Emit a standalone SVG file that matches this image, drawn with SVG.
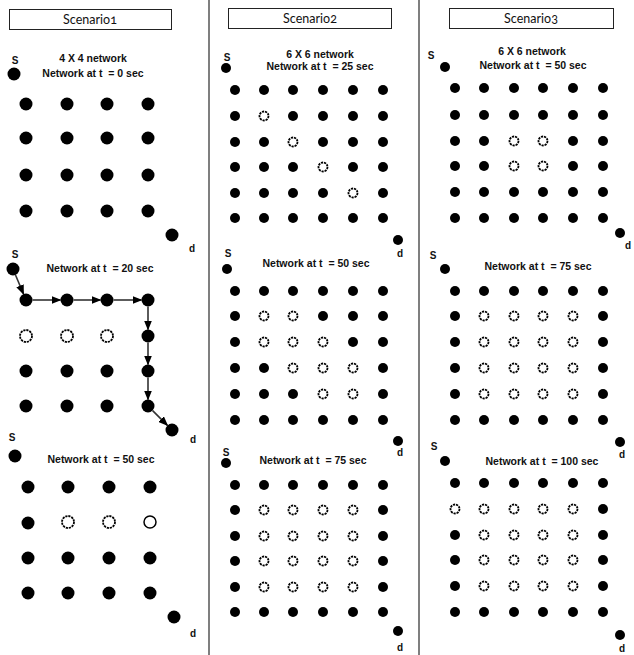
<svg xmlns="http://www.w3.org/2000/svg" width="634" height="655" viewBox="0 0 634 655">
<style>
.hdr{fill:#fff;stroke:#222;stroke-width:1}
.ht{font-family:Lato,"Liberation Sans",sans-serif;font-size:12.5px;fill:#111;text-anchor:middle;font-variant-numeric:oldstyle-nums}
.t{font-family:"Liberation Sans",Arial,sans-serif;font-weight:bold;font-size:10.5px;fill:#111;text-anchor:middle;white-space:pre}
.l{font-family:"Liberation Sans",Arial,sans-serif;font-weight:bold;font-size:10px;fill:#111;text-anchor:middle}
.f{fill:#000}
.h{fill:#fff;stroke:#000;stroke-width:1.8;stroke-dasharray:2.2 0.9}
.hs{fill:#fff;stroke:#000;stroke-width:1.5}
.sep{stroke:#555;stroke-width:1.5}
.c{stroke:#333;stroke-width:1.6;fill:none;marker-end:url(#ah)}
</style>
<defs>
<marker id="ah" markerUnits="userSpaceOnUse" markerWidth="10" markerHeight="8" refX="9" refY="4" orient="auto"><path d="M0,0 L10,4 L0,8 Z" fill="#000"/></marker>
</defs>
<rect width="634" height="655" fill="#fff"/>
<line class="sep" x1="209" y1="0" x2="209" y2="655"/>
<line class="sep" x1="419" y1="0" x2="419" y2="655"/>

<g id="header1"><rect class="hdr" x="9.5" y="9.5" width="162" height="20"/><text class="ht" x="90" y="24">Scenario1</text></g>
<g id="header2"><rect class="hdr" x="228.5" y="8.5" width="163" height="20"/><text class="ht" x="310" y="23">Scenario2</text></g>
<g id="header3"><rect class="hdr" x="449.5" y="8.5" width="164" height="20"/><text class="ht" x="531" y="23">Scenario3</text></g>

<!-- Scenario 1, t=0 -->
<g id="s1a">
<text class="l" x="15" y="64">S</text><circle class="f" cx="14" cy="74" r="6.5"/>
<text class="t" x="93" y="62">4 X 4 network</text>
<text class="t" x="93" y="77">Network at t  = 0 sec</text>
<g class="f">
<circle cx="26" cy="104" r="6.5"/><circle cx="67" cy="104" r="6.5"/><circle cx="107" cy="104" r="6.5"/><circle cx="148" cy="104" r="6.5"/>
<circle cx="26" cy="138" r="6.5"/><circle cx="67" cy="138" r="6.5"/><circle cx="107" cy="138" r="6.5"/><circle cx="148" cy="138" r="6.5"/>
<circle cx="26" cy="175" r="6.5"/><circle cx="67" cy="175" r="6.5"/><circle cx="107" cy="175" r="6.5"/><circle cx="148" cy="175" r="6.5"/>
<circle cx="26" cy="211" r="6.5"/><circle cx="67" cy="211" r="6.5"/><circle cx="107" cy="211" r="6.5"/><circle cx="148" cy="211" r="6.5"/>
</g>
<circle class="f" cx="172" cy="235" r="6.5"/><text class="l" x="192" y="252">d</text>
</g>

<!-- Scenario 1, t=20 -->
<g id="s1b">
<text class="l" x="15" y="258">S</text><circle class="f" cx="13" cy="269" r="6.5"/>
<text class="t" x="100" y="272">Network at t  = 20 sec</text>
<g class="f">
<circle cx="26" cy="300" r="6.5"/><circle cx="67" cy="300" r="6.5"/><circle cx="107" cy="300" r="6.5"/><circle cx="148" cy="300" r="6.5"/>
<circle cx="148" cy="336" r="6.5"/>
<circle cx="26" cy="371" r="6.5"/><circle cx="67" cy="371" r="6.5"/><circle cx="107" cy="371" r="6.5"/><circle cx="148" cy="371" r="6.5"/>
<circle cx="26" cy="406" r="6.5"/><circle cx="67" cy="406" r="6.5"/><circle cx="107" cy="406" r="6.5"/><circle cx="148" cy="406" r="6.5"/>
</g>
<circle class="h" cx="26" cy="336" r="6"/><circle class="h" cx="67" cy="336" r="6"/><circle class="h" cx="107" cy="336" r="6"/>
<circle class="f" cx="172" cy="430" r="6.5"/><text class="l" x="193" y="443">d</text>
</g>

<g id="connectors">
<line class="c" x1="15.5" y1="275" x2="23.5" y2="294"/>
<line class="c" x1="32.5" y1="300" x2="60.5" y2="300"/>
<line class="c" x1="73.5" y1="300" x2="100.5" y2="300"/>
<line class="c" x1="113.5" y1="300" x2="141.5" y2="300"/>
<line class="c" x1="148" y1="306.5" x2="148" y2="329.5"/>
<line class="c" x1="148" y1="342.5" x2="148" y2="364.5"/>
<line class="c" x1="148" y1="377.5" x2="148" y2="399.5"/>
<line class="c" x1="152.6" y1="410.6" x2="167.4" y2="425.4"/>
</g>

<!-- Scenario 1, t=50 -->
<g id="s1c">
<text class="l" x="12" y="441">S</text><circle class="f" cx="15" cy="456" r="6.5"/>
<text class="t" x="101" y="463">Network at t  = 50 sec</text>
<g class="f">
<circle cx="28" cy="487" r="6.5"/><circle cx="68" cy="487" r="6.5"/><circle cx="109" cy="487" r="6.5"/><circle cx="150" cy="487" r="6.5"/>
<circle cx="28" cy="523" r="6.5"/>
<circle cx="28" cy="558" r="6.5"/><circle cx="68" cy="558" r="6.5"/><circle cx="109" cy="558" r="6.5"/><circle cx="150" cy="558" r="6.5"/>
<circle cx="28" cy="593" r="6.5"/><circle cx="68" cy="593" r="6.5"/><circle cx="109" cy="593" r="6.5"/><circle cx="150" cy="593" r="6.5"/>
</g>
<circle class="h" cx="68" cy="522" r="6"/><circle class="h" cx="109" cy="522" r="6"/><circle class="hs" cx="150" cy="522" r="6"/>
<circle class="f" cx="174" cy="617" r="6.5"/><text class="l" x="193" y="637">d</text>
</g>

<!-- Scenario 2, t=25 -->
<g id="s2a">
<text class="l" x="227" y="61">S</text><circle class="f" cx="226" cy="68" r="5"/>
<text class="t" x="320" y="58">6 X 6 network</text>
<text class="t" x="320" y="70">Network at t  = 25 sec</text>
<g class="f">
<circle cx="235" cy="90" r="5"/><circle cx="264" cy="90" r="5"/><circle cx="293" cy="90" r="5"/><circle cx="323" cy="90" r="5"/><circle cx="353" cy="90" r="5"/><circle cx="383" cy="90" r="5"/>
<circle cx="235" cy="116" r="5"/><circle cx="293" cy="116" r="5"/><circle cx="323" cy="116" r="5"/><circle cx="353" cy="116" r="5"/><circle cx="383" cy="116" r="5"/>
<circle cx="235" cy="142" r="5"/><circle cx="264" cy="142" r="5"/><circle cx="323" cy="142" r="5"/><circle cx="353" cy="142" r="5"/><circle cx="383" cy="142" r="5"/>
<circle cx="235" cy="167" r="5"/><circle cx="264" cy="167" r="5"/><circle cx="293" cy="167" r="5"/><circle cx="353" cy="167" r="5"/><circle cx="383" cy="167" r="5"/>
<circle cx="235" cy="193" r="5"/><circle cx="264" cy="193" r="5"/><circle cx="293" cy="193" r="5"/><circle cx="323" cy="193" r="5"/><circle cx="383" cy="193" r="5"/>
<circle cx="235" cy="218" r="5"/><circle cx="264" cy="218" r="5"/><circle cx="293" cy="218" r="5"/><circle cx="323" cy="218" r="5"/><circle cx="353" cy="218" r="5"/><circle cx="383" cy="218" r="5"/>
</g>
<g class="h"><circle cx="264" cy="116" r="4.5"/><circle cx="293" cy="142" r="4.5"/><circle cx="323" cy="167" r="4.5"/><circle cx="353" cy="193" r="4.5"/></g>
<circle class="f" cx="398" cy="240" r="5"/><text class="l" x="400" y="257">d</text>
</g>

<!-- Scenario 2, t=50 -->
<g id="s2b">
<text class="l" x="228" y="257">S</text><circle class="f" cx="227" cy="269" r="5"/>
<text class="t" x="316" y="267">Network at t  = 50 sec</text>
<g class="f">
<circle cx="235" cy="291" r="5"/><circle cx="264" cy="291" r="5"/><circle cx="293" cy="291" r="5"/><circle cx="323" cy="291" r="5"/><circle cx="353" cy="291" r="5"/><circle cx="383" cy="291" r="5"/>
<circle cx="235" cy="316" r="5"/><circle cx="323" cy="316" r="5"/><circle cx="353" cy="316" r="5"/><circle cx="383" cy="316" r="5"/>
<circle cx="235" cy="342" r="5"/><circle cx="353" cy="342" r="5"/><circle cx="383" cy="342" r="5"/>
<circle cx="235" cy="368" r="5"/><circle cx="264" cy="368" r="5"/><circle cx="383" cy="368" r="5"/>
<circle cx="235" cy="394" r="5"/><circle cx="264" cy="394" r="5"/><circle cx="293" cy="394" r="5"/><circle cx="383" cy="394" r="5"/>
<circle cx="235" cy="420" r="5"/><circle cx="264" cy="420" r="5"/><circle cx="293" cy="420" r="5"/><circle cx="323" cy="420" r="5"/><circle cx="353" cy="420" r="5"/><circle cx="383" cy="420" r="5"/>
</g>
<g class="h">
<circle cx="264" cy="316" r="4.5"/><circle cx="293" cy="316" r="4.5"/>
<circle cx="264" cy="342" r="4.5"/><circle cx="293" cy="342" r="4.5"/><circle cx="323" cy="342" r="4.5"/>
<circle cx="293" cy="368" r="4.5"/><circle cx="323" cy="368" r="4.5"/><circle cx="353" cy="368" r="4.5"/>
<circle cx="323" cy="394" r="4.5"/><circle cx="353" cy="394" r="4.5"/>
</g>
<circle class="f" cx="398" cy="441" r="5"/><text class="l" x="400" y="456">d</text>
</g>

<!-- Scenario 2, t=75 -->
<g id="s2c">
<text class="l" x="226" y="456">S</text><circle class="f" cx="226" cy="463" r="5"/>
<text class="t" x="313" y="464">Network at t  = 75 sec</text>
<g class="f">
<circle cx="235" cy="485" r="5"/><circle cx="264" cy="485" r="5"/><circle cx="293" cy="485" r="5"/><circle cx="323" cy="485" r="5"/><circle cx="353" cy="485" r="5"/><circle cx="383" cy="485" r="5"/>
<circle cx="235" cy="510" r="5"/><circle cx="383" cy="510" r="5"/>
<circle cx="235" cy="536" r="5"/><circle cx="383" cy="536" r="5"/>
<circle cx="235" cy="561" r="5"/><circle cx="383" cy="561" r="5"/>
<circle cx="235" cy="587" r="5"/><circle cx="383" cy="587" r="5"/>
<circle cx="235" cy="612" r="5"/><circle cx="264" cy="612" r="5"/><circle cx="293" cy="612" r="5"/><circle cx="323" cy="612" r="5"/><circle cx="353" cy="612" r="5"/><circle cx="383" cy="612" r="5"/>
</g>
<g class="h">
<circle cx="264" cy="510" r="4.5"/><circle cx="293" cy="510" r="4.5"/><circle cx="323" cy="510" r="4.5"/><circle cx="353" cy="510" r="4.5"/>
<circle cx="264" cy="536" r="4.5"/><circle cx="293" cy="536" r="4.5"/><circle cx="323" cy="536" r="4.5"/><circle cx="353" cy="536" r="4.5"/>
<circle cx="264" cy="561" r="4.5"/><circle cx="293" cy="561" r="4.5"/><circle cx="323" cy="561" r="4.5"/><circle cx="353" cy="561" r="4.5"/>
<circle cx="264" cy="587" r="4.5"/><circle cx="293" cy="587" r="4.5"/><circle cx="323" cy="587" r="4.5"/><circle cx="353" cy="587" r="4.5"/>
</g>
<circle class="f" cx="398" cy="631" r="5"/><text class="l" x="400" y="651">d</text>
</g>

<!-- Scenario 3, t=50 -->
<g id="s3a">
<text class="l" x="431" y="59">S</text><circle class="f" cx="445" cy="67" r="5"/>
<text class="t" x="532" y="55">6 X 6 network</text>
<text class="t" x="533" y="69">Network at t  = 50 sec</text>
<g class="f">
<circle cx="455" cy="88" r="5"/><circle cx="484" cy="88" r="5"/><circle cx="514" cy="88" r="5"/><circle cx="543" cy="88" r="5"/><circle cx="573" cy="88" r="5"/><circle cx="603" cy="88" r="5"/>
<circle cx="455" cy="115" r="5"/><circle cx="484" cy="115" r="5"/><circle cx="514" cy="115" r="5"/><circle cx="543" cy="115" r="5"/><circle cx="573" cy="115" r="5"/><circle cx="603" cy="115" r="5"/>
<circle cx="455" cy="141" r="5"/><circle cx="484" cy="141" r="5"/><circle cx="573" cy="141" r="5"/><circle cx="603" cy="141" r="5"/>
<circle cx="455" cy="166" r="5"/><circle cx="484" cy="166" r="5"/><circle cx="573" cy="166" r="5"/><circle cx="603" cy="166" r="5"/>
<circle cx="455" cy="192" r="5"/><circle cx="484" cy="192" r="5"/><circle cx="514" cy="192" r="5"/><circle cx="543" cy="192" r="5"/><circle cx="573" cy="192" r="5"/><circle cx="603" cy="192" r="5"/>
<circle cx="455" cy="218" r="5"/><circle cx="484" cy="218" r="5"/><circle cx="514" cy="218" r="5"/><circle cx="543" cy="218" r="5"/><circle cx="573" cy="218" r="5"/><circle cx="603" cy="218" r="5"/>
</g>
<g class="h"><circle cx="514" cy="141" r="4.5"/><circle cx="543" cy="141" r="4.5"/><circle cx="514" cy="166" r="4.5"/><circle cx="543" cy="166" r="4.5"/></g>
<circle class="f" cx="620" cy="233" r="5"/><text class="l" x="628" y="249">d</text>
</g>

<!-- Scenario 3, t=75 -->
<g id="s3b">
<text class="l" x="433" y="259">S</text><circle class="f" cx="445" cy="269" r="5"/>
<text class="t" x="538" y="270">Network at t  = 75 sec</text>
<g class="f">
<circle cx="455" cy="291" r="5"/><circle cx="484" cy="291" r="5"/><circle cx="514" cy="291" r="5"/><circle cx="543" cy="291" r="5"/><circle cx="573" cy="291" r="5"/><circle cx="603" cy="291" r="5"/>
<circle cx="455" cy="316" r="5"/><circle cx="603" cy="316" r="5"/>
<circle cx="455" cy="342" r="5"/><circle cx="603" cy="342" r="5"/>
<circle cx="455" cy="368" r="5"/><circle cx="603" cy="368" r="5"/>
<circle cx="455" cy="394" r="5"/><circle cx="603" cy="394" r="5"/>
<circle cx="455" cy="420" r="5"/><circle cx="484" cy="420" r="5"/><circle cx="514" cy="420" r="5"/><circle cx="543" cy="420" r="5"/><circle cx="573" cy="420" r="5"/><circle cx="603" cy="420" r="5"/>
</g>
<g class="h">
<circle cx="484" cy="316" r="4.5"/><circle cx="514" cy="316" r="4.5"/><circle cx="543" cy="316" r="4.5"/><circle cx="573" cy="316" r="4.5"/>
<circle cx="484" cy="342" r="4.5"/><circle cx="514" cy="342" r="4.5"/><circle cx="543" cy="342" r="4.5"/><circle cx="573" cy="342" r="4.5"/>
<circle cx="484" cy="368" r="4.5"/><circle cx="514" cy="368" r="4.5"/><circle cx="543" cy="368" r="4.5"/><circle cx="573" cy="368" r="4.5"/>
<circle cx="484" cy="394" r="4.5"/><circle cx="514" cy="394" r="4.5"/><circle cx="543" cy="394" r="4.5"/><circle cx="573" cy="394" r="4.5"/>
</g>
<circle class="f" cx="620" cy="442" r="5"/><text class="l" x="622" y="458">d</text>
</g>

<!-- Scenario 3, t=100 -->
<g id="s3c">
<text class="l" x="434" y="450">S</text><circle class="f" cx="445" cy="461" r="5"/>
<text class="t" x="542" y="465">Network at t  = 100 sec</text>
<g class="f">
<circle cx="455" cy="483" r="5"/><circle cx="484" cy="483" r="5"/><circle cx="514" cy="483" r="5"/><circle cx="543" cy="483" r="5"/><circle cx="573" cy="483" r="5"/><circle cx="603" cy="483" r="5"/>
<circle cx="603" cy="509" r="5"/>
<circle cx="455" cy="535" r="5"/><circle cx="603" cy="535" r="5"/>
<circle cx="455" cy="560" r="5"/><circle cx="603" cy="560" r="5"/>
<circle cx="455" cy="586" r="5"/><circle cx="603" cy="586" r="5"/>
<circle cx="455" cy="612" r="5"/><circle cx="484" cy="612" r="5"/><circle cx="514" cy="612" r="5"/><circle cx="543" cy="612" r="5"/><circle cx="573" cy="612" r="5"/><circle cx="603" cy="612" r="5"/>
</g>
<g class="h">
<circle cx="455" cy="509" r="4.5"/><circle cx="484" cy="509" r="4.5"/><circle cx="514" cy="509" r="4.5"/><circle cx="543" cy="509" r="4.5"/><circle cx="573" cy="509" r="4.5"/>
<circle cx="484" cy="535" r="4.5"/><circle cx="514" cy="535" r="4.5"/><circle cx="543" cy="535" r="4.5"/><circle cx="573" cy="535" r="4.5"/>
<circle cx="484" cy="560" r="4.5"/><circle cx="514" cy="560" r="4.5"/><circle cx="543" cy="560" r="4.5"/><circle cx="573" cy="560" r="4.5"/>
<circle cx="484" cy="586" r="4.5"/><circle cx="514" cy="586" r="4.5"/><circle cx="543" cy="586" r="4.5"/><circle cx="573" cy="586" r="4.5"/>
</g>
<circle class="f" cx="620" cy="635" r="5"/><text class="l" x="622" y="652">d</text>
</g>
</svg>
